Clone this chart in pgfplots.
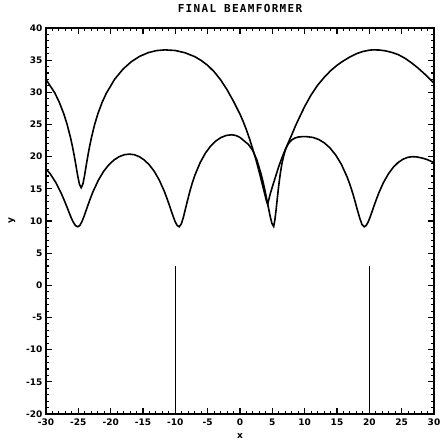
\documentclass[border=0pt]{standalone}
\usepackage{pgfplots}
\pgfplotsset{compat=1.18}
\usepackage{fontspec}
\newfontfamily\tickfont{DejaVu Sans}
\newfontfamily\titlefont[LetterSpace=12.0]{DejaVu Sans Mono}

\begin{document}
\begin{tikzpicture}
\begin{axis}[
    at={(0,0)}, anchor=south west,
    width=388pt, height=386pt, scale only axis,
    xmin=-30, xmax=30, ymin=-20, ymax=40,
    xtick distance=5, ytick distance=5, minor tick num=4,
    tick align=inside,
    major tick length=6pt, minor tick length=3pt,
    tick style={black, line width=1.1pt},
    axis line style={line width=1.8pt},
    /pgf/number format/assume math mode=true,
    ticklabel style={font=\tickfont\bfseries\fontsize{9}{9}\selectfont},
    xticklabel style={yshift=-1pt},
    title={FINAL BEAMFORMER},
    title style={font=\titlefont\bfseries\fontsize{11}{11}\selectfont, at={(0.5,1.036)}, anchor=center},
    xlabel={x}, ylabel={y},
    xlabel style={font=\tickfont\bfseries\fontsize{9}{9}\selectfont, at={(0.5,-0.057)}, anchor=center},
    ylabel style={font=\tickfont\bfseries\fontsize{9}{9}\selectfont, at={(-0.088,0.5)}, anchor=center},
]
% conventional pattern
\addplot[black, line width=1.6pt] coordinates {
(-30.0,32.0) (-28.61,29.86) (-27.94,28.44) (-27.26,26.69) (-26.72,24.96)
(-26.18,22.84) (-25.91,21.58) (-25.64,20.18) (-25.37,18.64) (-25.10,17.05)
(-24.83,15.72) (-24.56,15.17) (-24.30,15.72) (-24.04,17.05) (-23.78,18.64)
(-23.52,20.18) (-23.26,21.58) (-23.00,22.84) (-22.49,24.96) (-21.97,26.69)
(-21.32,28.44) (-20.67,29.86) (-19.38,32.04) (-18.08,33.62) (-16.78,34.78)
(-15.49,35.61) (-14.19,36.17) (-12.90,36.49) (-11.60,36.60) (-10.0,36.5)
(-8.5,36.15) (-7.0,35.55) (-6.0,34.95) (-5.0,34.2) (-4.0,33.2)
(-3.0,31.95) (-2.0,30.4) (-1.0,28.6) (0.0,26.6) (0.5,25.45)
(1.0,24.15) (1.5,22.7) (2.0,21.1) (2.5,19.4) (3.0,17.5)
(3.5,15.5) (3.9,13.9) (4.1,13.1) (4.28,12.6) (4.45,13.3)
(4.7,14.3) (5.0,15.3) (5.5,16.9) (6.0,18.5) (6.5,19.85)
(7.0,21.1) (7.5,22.25) (8.0,23.4) (8.5,24.6) (9.0,25.7)
(10.0,27.8) (11.0,29.6) (12.0,31.1) (13.0,32.3) (14.0,33.35)
(15.0,34.2) (16.0,34.9) (17.0,35.5) (18.0,36.0) (19.0,36.35)
(20.0,36.55) (20.5,36.6) (21.5,36.58) (22.5,36.45) (23.5,36.2)
(24.5,35.85) (25.5,35.3) (26.5,34.6) (27.5,33.8) (28.5,32.9)
(29.5,31.9) (30.0,31.4)
};
% final beamformer pattern
\addplot[black, line width=1.6pt] coordinates {
(-30.0,18.1) (-29.35,17.33) (-28.5,16.01) (-27.65,14.32) (-27.23,13.34)
(-26.8,12.28) (-26.46,11.40) (-26.12,10.55) (-25.78,9.81) (-25.44,9.29)
(-25.1,9.10) (-24.78,9.30) (-24.46,9.87) (-24.14,10.67) (-23.82,11.58)
(-23.5,12.50) (-23.1,13.61) (-22.7,14.63) (-21.9,16.35) (-21.1,17.70)
(-20.3,18.72) (-19.5,19.47) (-18.7,19.99) (-17.9,20.30) (-17.1,20.40)
(-16.33,20.30) (-15.56,19.99) (-14.79,19.47) (-14.02,18.72) (-13.25,17.70)
(-12.48,16.35) (-11.71,14.63) (-11.33,13.61) (-10.94,12.50) (-10.63,11.58)
(-10.32,10.67) (-10.02,9.87) (-9.71,9.30) (-9.4,9.10) (-9.08,9.53)
(-8.75,10.59) (-8.43,11.91) (-8.10,13.26) (-7.78,14.51) (-7.38,15.91)
(-6.97,17.13) (-6.16,19.08) (-5.35,20.55) (-4.54,21.65) (-3.73,22.44)
(-2.92,22.99) (-2.11,23.30) (-1.3,23.40) (-0.65,23.30) (0.0,22.99)
(0.65,22.44) (1.3,21.9) (1.955,21.0) (2.61,19.5) (3.26,17.3)
(3.58,16.0) (3.91,14.5) (4.17,13.2) (4.43,11.9) (4.69,10.6)
(4.95,9.6) (5.21,9.15) (5.4,10.2) (5.6,11.9) (5.8,13.8)
(6.0,15.6) (6.25,17.5) (6.5,19.0) (6.75,20.1) (7.0,21.0)
(7.25,21.6) (7.5,22.05) (8.0,22.6) (8.5,22.9) (9.0,23.05)
(9.7,23.12) (10.4,23.1) (11.28,22.99) (12.16,22.68) (13.04,22.14)
(13.92,21.35) (14.8,20.26) (15.68,18.80) (16.56,16.86) (17.0,15.66)
(17.44,14.29) (17.79,13.06) (18.14,11.76) (18.5,10.50) (18.85,9.49)
(19.2,9.10) (19.5,9.29) (19.8,9.81) (20.1,10.55) (20.4,11.40)
(20.7,12.28) (21.08,13.34) (21.45,14.32) (22.2,16.01) (22.95,17.33)
(23.7,18.34) (24.45,19.09) (25.2,19.60) (25.95,19.90) (26.7,20.00)
(27.4,19.95) (28.1,19.8) (28.8,19.6) (29.4,19.35) (30.0,19.05)
};
% source directions
\addplot[black, line width=1.4pt] coordinates {(-10,-20) (-10,3)};
\addplot[black, line width=1.4pt] coordinates {(20,-20) (20,3)};
\end{axis}
\pgfresetboundingbox
\useasboundingbox (-46pt,-29pt) rectangle (396pt,414pt);
\end{tikzpicture}
\end{document}
